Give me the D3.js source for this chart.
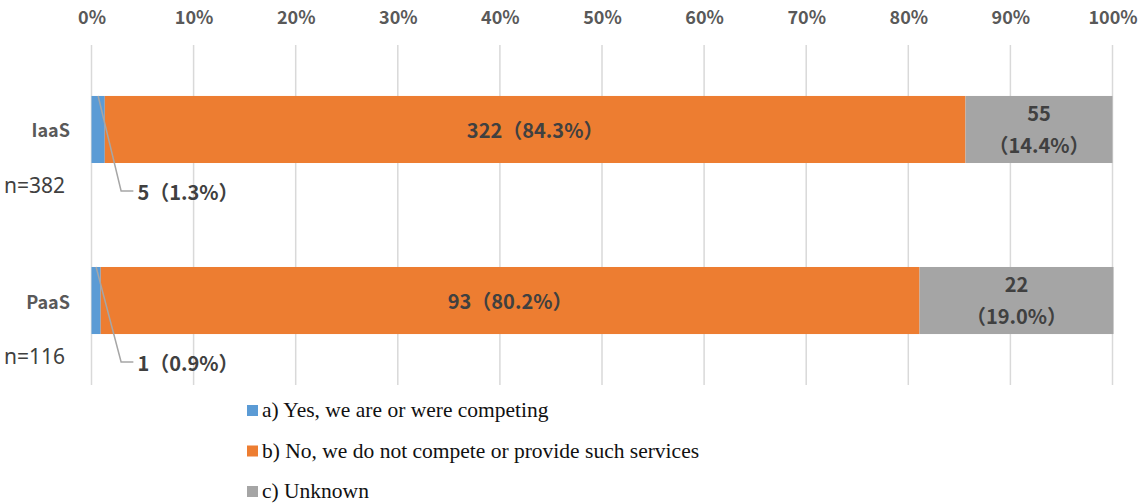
<!DOCTYPE html>
<html>
<head>
<meta charset="utf-8">
<script src="https://cdn.jsdelivr.net/npm/d3@7"></script>
<style>
  body { margin: 0; background: #fff; }
  svg { display: block; }
</style>
</head>
<body>
<script>
const categories = ["IaaS", "PaaS"];
const sampleSizes = ["n=382", "n=116"];
const seriesNames = [
  "a) Yes, we are or were competing",
  "b) No, we do not compete or provide such services",
  "c) Unknown",
];
const counts = [
  [5, 322, 55],
  [1, 93, 22],
];
const percents = [
  [1.3, 84.3, 14.4],
  [0.9, 80.2, 19.0],
];
const tickValues = [0, 10, 20, 30, 40, 50, 60, 70, 80, 90, 100];
const colors = ["#5B9BD5", "#ED7D31", "#A5A5A5"];

const width = 1140;
const height = 503;
const labelFont = "'Noto Sans CJK JP', 'Noto Sans', sans-serif";

const svg = d3
  .select("body")
  .append("svg")
  .attr("width", width)
  .attr("height", height);

const x = d3.scaleLinear().domain([0, 100]).range([91.5, 1112.5]);
const y = d3
  .scaleBand()
  .domain(categories)
  .range([45, 385])
  .paddingInner(0.608)
  .paddingOuter(0.298);
const bw = y.bandwidth();

// grid
svg
  .append("g")
  .selectAll("line")
  .data(tickValues)
  .enter()
  .append("line")
  .attr("x1", (d) => x(d))
  .attr("x2", (d) => x(d))
  .attr("y1", 45)
  .attr("y2", 385)
  .attr("stroke", "#d9d9d9")
  .attr("stroke-width", 1.5);

// top axis labels
const axis = d3
  .axisTop(x)
  .tickValues(tickValues)
  .tickSize(0)
  .tickPadding(0)
  .tickFormat((d) => d + "%");

const axisG = svg.append("g").attr("transform", "translate(0, 24)").call(axis);
axisG.select(".domain").remove();
axisG
  .selectAll("text")
  .attr("font-family", labelFont)
  .attr("font-weight", "bold")
  .attr("font-size", 18)
  .attr("fill", "#595959");

// stacked data
const rows = categories.map((c, i) => {
  let acc = 0;
  return percents[i].map((p, j) => {
    const seg = { cat: c, series: j, x0: acc, x1: acc + p, count: counts[i][j], pct: p };
    acc += p;
    return seg;
  });
});

const barG = svg.append("g");
rows.forEach((row) => {
  barG
    .selectAll(null)
    .data(row)
    .enter()
    .append("rect")
    .attr("x", (d) => x(d.x0))
    .attr("y", (d) => y(d.cat))
    .attr("width", (d) => x(d.x1) - x(d.x0))
    .attr("height", bw)
    .attr("fill", (d) => colors[d.series]);
});

// labels inside bars
rows.forEach((row) => {
  const orange = row[1];
  svg
    .append("text")
    .attr("x", (x(orange.x0) + x(orange.x1)) / 2)
    .attr("y", y(orange.cat) + bw / 2)
    .attr("text-anchor", "middle")
    .attr("dominant-baseline", "central")
    .attr("font-family", labelFont)
    .attr("font-weight", "bold")
    .attr("font-size", 20)
    .attr("fill", "#404040")
    .text(`${orange.count}（${orange.pct.toFixed(1)}%）`);

  const grey = row[2];
  const gx = (x(grey.x0) + x(grey.x1)) / 2;
  const gt = svg
    .append("text")
    .attr("text-anchor", "middle")
    .attr("font-family", labelFont)
    .attr("font-weight", "bold")
    .attr("font-size", 20)
    .attr("fill", "#404040");
  gt.append("tspan")
    .attr("x", gx)
    .attr("y", y(grey.cat) + bw / 2 - 17)
    .attr("dominant-baseline", "central")
    .text(grey.count);
  gt.append("tspan")
    .attr("x", gx)
    .attr("y", y(grey.cat) + bw / 2 + 15)
    .attr("dominant-baseline", "central")
    .text(`（${grey.pct.toFixed(1)}%）`);

  // leader line for the small blue segment
  const blue = row[0];
  const top = y(blue.cat);
  const sx = (x(blue.x0) + x(blue.x1)) / 2;
  const ly = top + bw + 28;
  svg
    .append("polyline")
    .attr("points", `${sx},${top} ${x(2.9)},${ly} ${x(4.1)},${ly}`)
    .attr("fill", "none")
    .attr("stroke", "#a6a6a6")
    .attr("stroke-width", 1.5);
  svg
    .append("text")
    .attr("x", x(4.5))
    .attr("y", ly)
    .attr("dominant-baseline", "central")
    .attr("font-family", labelFont)
    .attr("font-weight", "bold")
    .attr("font-size", 20)
    .attr("fill", "#404040")
    .text(`${blue.count}（${blue.pct.toFixed(1)}%）`);
});

// category labels
categories.forEach((c, i) => {
  svg
    .append("text")
    .attr("x", 70)
    .attr("y", y(c) + bw / 2)
    .attr("text-anchor", "end")
    .attr("dominant-baseline", "central")
    .attr("font-family", labelFont)
    .attr("font-weight", "bold")
    .attr("font-size", 18)
    .attr("fill", "#595959")
    .text(c);
  svg
    .append("text")
    .attr("x", 4)
    .attr("y", y(c) + bw + 22)
    .attr("dominant-baseline", "central")
    .attr("font-family", "'Noto Sans', sans-serif")
    .attr("font-size", 21)
    .attr("fill", "#404040")
    .text(sampleSizes[i]);
});

// legend
const legend = svg.append("g").attr("transform", "translate(247, 410)");
const item = legend
  .selectAll("g")
  .data(seriesNames)
  .enter()
  .append("g")
  .attr("transform", (d, i) => `translate(0, ${i * 40.5})`);
item
  .append("rect")
  .attr("x", 0)
  .attr("y", -5)
  .attr("width", 11)
  .attr("height", 11)
  .attr("fill", (d, i) => colors[i]);
item
  .append("text")
  .attr("x", 15)
  .attr("y", 0)
  .attr("dominant-baseline", "central")
  .attr("font-family", "'Liberation Serif', 'Times New Roman', serif")
  .attr("font-size", 21.5)
  .attr("fill", "#111")
  .text((d) => d);
</script>
</body>
</html>
